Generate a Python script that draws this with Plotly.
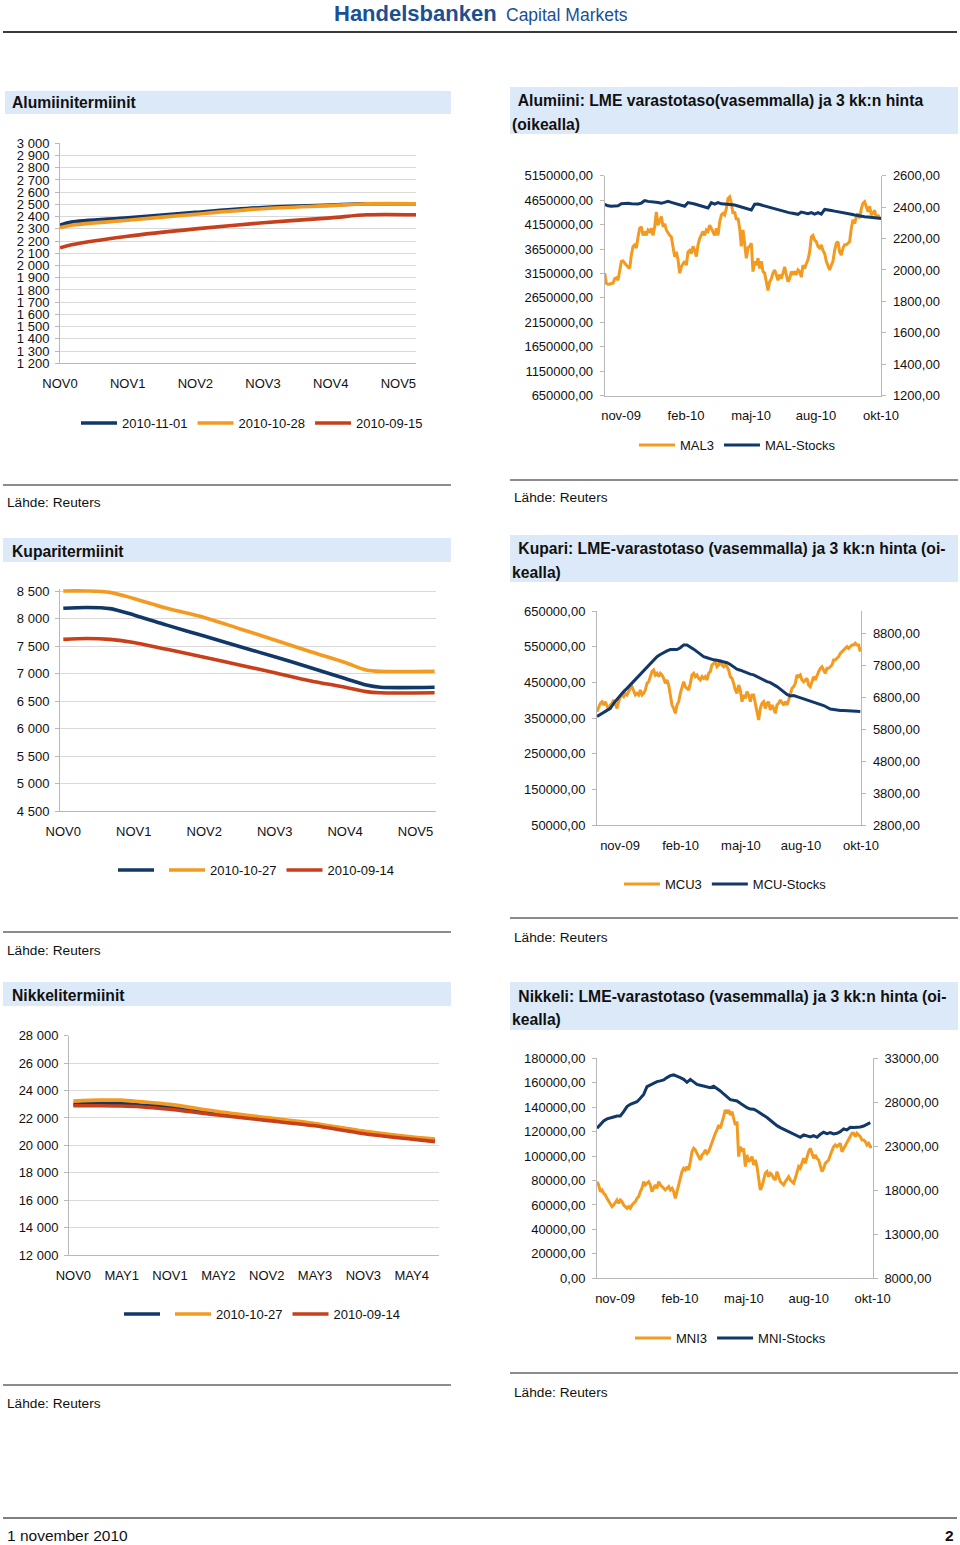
import plotly.graph_objects as go

W, H = 960, 1545
FONT = "Liberation Sans, Arial, Helvetica, sans-serif"
NAVY = "#113869"
ORANGE = "#f39a21"
RED = "#c7401b"
GRID = "#d9d9d9"
AXIS = "#b8b8b8"
TITLE_BG = "#dce9f8"
TXT = "#111111"

# ---------------- data: forward curves ----------------
al_fwd_x = [0, 0.17, 1, 2, 3, 4, 4.53, 5.26]
al_fwd_1101 = [2330, 2355, 2390, 2435, 2475, 2495, 2505, 2505]
al_fwd_1028 = [2310, 2330, 2370, 2420, 2465, 2490, 2505, 2505]
al_fwd_0915 = [2145, 2170, 2240, 2300, 2350, 2390, 2415, 2415]
al_fwd_ticks = ["NOV0", "NOV1", "NOV2", "NOV3", "NOV4", "NOV5"]

cu_fwd_x = [0, 0.33, 0.66, 1, 1.47, 2, 2.5, 3, 3.5, 4, 4.3, 4.5, 5.27]
cu_fwd_latest = [8185, 8200, 8180, 8065, 7880, 7680, 7490, 7305, 7110, 6910, 6790, 6750, 6750]
cu_fwd_1027 = [8500, 8500, 8475, 8365, 8185, 8020, 7815, 7610, 7400, 7200, 7065, 7040, 7040]
cu_fwd_0914 = [7620, 7635, 7620, 7565, 7440, 7295, 7155, 7015, 6870, 6750, 6670, 6650, 6650]
cu_fwd_ticks = ["NOV0", "NOV1", "NOV2", "NOV3", "NOV4", "NOV5"]

ni_fwd_x = [0, 0.55, 0.99, 1.38, 1.99, 2.99, 3.99, 4.99, 5.99, 6.98, 7.48]
ni_fwd_latest = [22990, 23060, 23060, 22940, 22820, 22330, 21920, 21530, 21000, 20510, 20340]
ni_fwd_1027 = [23230, 23300, 23300, 23190, 22990, 22460, 22020, 21600, 21050, 20630, 20460]
ni_fwd_0914 = [22890, 22890, 22870, 22820, 22630, 22210, 21820, 21430, 20870, 20460, 20270]
ni_fwd_ticks = ["NOV0", "MAY1", "NOV1", "MAY2", "NOV2", "MAY3", "NOV3", "MAY4"]

# ---------------- data: LME stocks and 3m prices ----------------
month_labels = ["nov-09", "feb-10", "maj-10", "aug-10", "okt-10"]

mal3 = [1980, 1915, 1910, 1910, 1915, 1915, 1945, 1950, 1935, 1990,
        2055, 2058, 2040, 2030, 2020, 2010, 2095, 2150, 2160, 2140,
        2210, 2265, 2275, 2220, 2245, 2220, 2255, 2245, 2265, 2220,
        2275, 2370, 2285, 2320, 2340, 2275, 2295, 2255, 2235, 2220,
        2210, 2140, 2085, 2115, 2065, 1980, 2020, 2040, 2055, 2030,
        2115, 2125, 2105, 2150, 2125, 2085, 2160, 2200, 2220, 2245,
        2220, 2255, 2245, 2285, 2265, 2245, 2220, 2265, 2220, 2305,
        2350, 2360, 2350, 2390, 2455, 2465, 2425, 2360, 2370, 2320,
        2330, 2265, 2150, 2255, 2180, 2075, 2140, 2150, 2170, 1990,
        2055, 2030, 2075, 2010, 2055, 1990, 1980, 1925, 1870, 1925,
        1945, 1980, 2000, 1970, 1935, 1970, 1945, 1980, 2020, 1970,
        1925, 1945, 1990, 1970, 1990, 1970, 2000, 1990, 1955, 2030,
        2010, 2040, 2065, 2115, 2210, 2220, 2190, 2180, 2150, 2140,
        2160, 2125, 2105, 2055, 2020, 2000, 2030, 2055, 2125, 2170,
        2180, 2115, 2095, 2140, 2160, 2160, 2170, 2180, 2265, 2320,
        2295, 2340, 2360, 2330, 2390, 2425, 2435, 2405, 2370, 2405,
        2350, 2360, 2380, 2330, 2350, 2330]
mal_stocks = [4565000, 4535000, 4525000, 4525000, 4535000, 4575000, 4585000, 4585000, 4575000, 4575000,
              4570000, 4590000, 4640000, 4625000, 4620000, 4605000, 4600000, 4585000, 4605000, 4625000,
              4605000, 4585000, 4565000, 4545000, 4525000, 4600000, 4590000, 4570000, 4550000, 4530000,
              4510000, 4490000, 4600000, 4570000, 4600000, 4575000, 4570000, 4565000, 4555000, 4550000,
              4530000, 4510000, 4490000, 4470000, 4450000, 4565000, 4570000, 4550000, 4530000, 4510000,
              4490000, 4470000, 4450000, 4425000, 4415000, 4400000, 4385000, 4375000, 4360000, 4405000,
              4385000, 4375000, 4395000, 4365000, 4395000, 4365000, 4460000, 4455000, 4440000, 4425000,
              4415000, 4400000, 4385000, 4375000, 4360000, 4345000, 4330000, 4320000, 4310000, 4305000,
              4300000, 4290000, 4290000, 4275000]
al_tick_pos = [9.8, 48.8, 87.8, 126.8, 165.8]

mcu3 = [6345, 6505, 6610, 6660, 6555, 6660, 6505, 6400, 6555, 6610,
        6715, 6555, 6450, 6660, 6815, 6870, 6815, 6920, 6870, 6975,
        7080, 7130, 6975, 6870, 6920, 6870, 7025, 6870, 6920, 7025,
        7235, 7285, 7445, 7600, 7650, 7495, 7550, 7445, 7550, 7495,
        7390, 7235, 7340, 7180, 6870, 6555, 6450, 6295, 6555, 6660,
        6920, 7080, 7285, 7130, 7080, 7025, 7235, 7495, 7550, 7445,
        7495, 7390, 7340, 7445, 7390, 7445, 7340, 7550, 7600, 7810,
        7860, 7915, 7755, 7810, 7965, 7810, 7755, 7810, 7755, 7650,
        7445, 7390, 7235, 7025, 6920, 7180, 7025, 6660, 6870, 6765,
        6975, 6870, 6660, 6870, 6870, 6610, 6345, 6085, 6450, 6610,
        6660, 6450, 6610, 6660, 6400, 6555, 6450, 6295, 6555, 6610,
        6715, 6610, 6555, 6660, 6555, 6715, 6920, 7080, 7130, 7235,
        7495, 7445, 7495, 7340, 7285, 7340, 7390, 7180, 7130, 7285,
        7445, 7340, 7495, 7600, 7705, 7755, 7650, 7550, 7705, 7705,
        7755, 7810, 7965, 7965, 8020, 8070, 8175, 8225, 8280, 8330,
        8385, 8330, 8385, 8435, 8435, 8490, 8435, 8435, 8225]
mcu_stocks = [354000, 360000, 366000, 370000, 377000, 391000, 403000, 415000, 424000, 433000,
              443000, 454000, 463000, 472000, 482000, 494000, 503000, 513000, 522000, 528000,
              534000, 538000, 542000, 541000, 542000, 547000, 555000, 555000, 550000, 543000,
              536000, 528000, 522000, 519000, 515000, 513000, 512000, 510000, 508000, 505000,
              500000, 494000, 487000, 484000, 480000, 477000, 473000, 471000, 466000, 461000,
              457000, 452000, 449000, 444000, 438000, 431000, 424000, 416000, 412000, 413000,
              410000, 407000, 403000, 400000, 398000, 396000, 393000, 388000, 385000, 380000,
              375000, 374000, 372000, 371000, 371000, 370000, 369000, 368000, 368000, 368000]
cu_tick_pos = [13.8, 50.2, 86.4, 122.4, 158.4]

mni3 = [18980, 18610, 17850, 18040, 17660, 17470, 17090, 16710, 16520, 16140,
        16330, 16710, 16900, 16520, 16900, 16710, 16330, 16140, 15950, 16140,
        15950, 16330, 16520, 16710, 17090, 17280, 17850, 18230, 18980, 18610,
        18800, 18980, 18610, 17850, 18230, 18610, 18230, 18980, 18610, 18420,
        18230, 18040, 18230, 18420, 18040, 18230, 17850, 17090, 17850, 18610,
        19360, 20120, 20500, 20310, 20690, 20310, 21260, 22390, 22770, 22580,
        22200, 21830, 21450, 22020, 22200, 22580, 22200, 22390, 22960, 23530,
        24100, 24480, 24860, 25420, 25050, 25610, 26370, 27130, 26750, 27130,
        26560, 26940, 26180, 25420, 25800, 21830, 22960, 22390, 22770, 20690,
        22020, 21260, 21450, 21830, 20880, 21450, 20690, 19360, 18040, 18420,
        19170, 19930, 20120, 19550, 19930, 19740, 19360, 19170, 20120, 19550,
        18980, 18800, 18610, 18980, 19360, 19550, 19170, 18980, 18800, 19360,
        19930, 20690, 20500, 21070, 21640, 21070, 21830, 22390, 22770, 22200,
        21640, 22020, 21640, 21450, 20880, 20120, 20500, 21070, 21260, 21450,
        22020, 22580, 22960, 23150, 22960, 23150, 23340, 22390, 22770, 22960,
        23340, 23720, 24100, 24480, 24480, 24100, 24480, 24290, 24100, 23720,
        23720, 23530, 23150, 23340, 22960, 22960]
mni_stocks = [122700, 125500, 128700, 130400, 130900, 132000, 132800, 132800, 136400, 140500,
              142400, 143200, 144500, 147300, 150500, 156800, 158200, 159000, 160900, 161500,
              162300, 164200, 165800, 166400, 165500, 164200, 162800, 160400, 162800, 160400,
              158700, 157900, 157100, 156500, 156000, 157100, 155500, 153300, 150800, 148100,
              146200, 145600, 145100, 143200, 141300, 139600, 138500, 138300, 136900, 135300,
              133600, 131500, 129300, 126800, 124900, 123300, 121900, 120500, 119200, 117800,
              116500, 115400, 117300, 116500, 115600, 116700, 115400, 117800, 119500, 118400,
              119200, 118100, 118600, 120000, 122200, 121400, 123500, 123300, 123500, 123800,
              124600, 126000, 127400]
ni_tick_pos = [10.8, 49.8, 88.2, 127.0, 165.4]

# day index of each daily observation (prices every step, stocks every 2nd step)
mal3_x = list(range(len(mal3)))
mal_stocks_x = list(range(0, 2 * len(mal_stocks), 2))
mcu3_x = list(range(len(mcu3)))
mcu_stocks_x = list(range(0, 2 * len(mcu_stocks), 2))
mni3_x = list(range(len(mni3)))
mni_stocks_x = list(range(0, 2 * len(mni_stocks), 2))


def fx(p):
    return p / W


def fy(p):
    return 1 - p / H


fig = go.Figure()


def line_trace(x, y, name, color, xa, ya, leg, width=3.6, spline=False, show=True):
    return go.Scatter(
        x=x, y=y, name=name, mode="lines",
        line=dict(color=color, width=width, shape="spline" if spline else "linear", smoothing=0.8),
        xaxis=xa, yaxis=ya, legend=leg, showlegend=show, hoverinfo="skip",
    )


# Panel A: aluminium forwards
fig.add_trace(line_trace(al_fwd_x, al_fwd_1101, "2010-11-01", NAVY, "x", "y", "legend", spline=True))
fig.add_trace(line_trace(al_fwd_x, al_fwd_1028, "2010-10-28", ORANGE, "x", "y", "legend", spline=True))
fig.add_trace(line_trace(al_fwd_x, al_fwd_0915, "2010-09-15", RED, "x", "y", "legend", spline=True))
# Panel B: aluminium LME
fig.add_trace(line_trace(mal3_x, mal3, "MAL3", ORANGE, "x2", "y2", "legend2", width=3))
fig.add_trace(line_trace(mal_stocks_x, mal_stocks, "MAL-Stocks", NAVY, "x2", "y3", "legend2", width=3))
# Panel C: copper forwards
fig.add_trace(line_trace(cu_fwd_x, cu_fwd_latest, "", NAVY, "x3", "y4", "legend3", spline=True))
fig.add_trace(line_trace(cu_fwd_x, cu_fwd_1027, "2010-10-27", ORANGE, "x3", "y4", "legend3", spline=True))
fig.add_trace(line_trace(cu_fwd_x, cu_fwd_0914, "2010-09-14", RED, "x3", "y4", "legend3", spline=True))
# Panel D: copper LME
fig.add_trace(line_trace(mcu3_x, mcu3, "MCU3", ORANGE, "x4", "y5", "legend4", width=3))
fig.add_trace(line_trace(mcu_stocks_x, mcu_stocks, "MCU-Stocks", NAVY, "x4", "y6", "legend4", width=3))
# Panel E: nickel forwards
fig.add_trace(line_trace(ni_fwd_x, ni_fwd_latest, "", NAVY, "x5", "y7", "legend5", spline=True))
fig.add_trace(line_trace(ni_fwd_x, ni_fwd_1027, "2010-10-27", ORANGE, "x5", "y7", "legend5", spline=True))
fig.add_trace(line_trace(ni_fwd_x, ni_fwd_0914, "2010-09-14", RED, "x5", "y7", "legend5", spline=True))
# Panel F: nickel LME
fig.add_trace(line_trace(mni3_x, mni3, "MNI3", ORANGE, "x6", "y8", "legend6", width=3))
fig.add_trace(line_trace(mni_stocks_x, mni_stocks, "MNI-Stocks", NAVY, "x6", "y9", "legend6", width=3))

tickfont = dict(family=FONT, size=13, color=TXT)


def cat_xaxis(dom, rng, labels, anchor):
    return dict(domain=[fx(dom[0]), fx(dom[1])], range=rng, anchor=anchor, automargin=False,
                tickmode="array", tickvals=list(range(len(labels))), ticktext=labels,
                showgrid=False, zeroline=False, showline=True, linecolor=AXIS, linewidth=1,
                ticks="", tickfont=tickfont, ticklabelstandoff=8, fixedrange=True)


def date_xaxis(dom, rng, pos, anchor):
    return dict(domain=[fx(dom[0]), fx(dom[1])], range=rng, anchor=anchor, automargin=False,
                tickmode="array", tickvals=pos, ticktext=month_labels,
                showgrid=False, zeroline=False, showline=True, linecolor=AXIS, linewidth=1,
                ticks="", tickfont=tickfont, ticklabelstandoff=8, fixedrange=True)


def grid_yaxis(dom, rng, dtick, anchor):
    return dict(domain=[fy(dom[1]), fy(dom[0])], range=rng, anchor=anchor, automargin=False,
                tick0=rng[0], dtick=dtick, tickformat=",d",
                showgrid=True, gridcolor=GRID, gridwidth=1, zeroline=False,
                showline=True, linecolor=AXIS, linewidth=1,
                ticks="outside", ticklen=4, tickcolor=AXIS, tickfont=tickfont,
                ticklabelstandoff=3, fixedrange=True)


def price_yaxis(dom, rng, tick0, dtick, anchor):
    return dict(domain=[fy(dom[1]), fy(dom[0])], range=rng, anchor=anchor, side="right",
                automargin=False, tick0=tick0, dtick=dtick, tickformat=".2f",
                showgrid=False, zeroline=False, showline=True, linecolor=AXIS, linewidth=1,
                ticks="outside", ticklen=4, tickcolor=AXIS, tickfont=tickfont,
                ticklabelstandoff=4, fixedrange=True)


def stock_yaxis(rng, dtick, anchor, over):
    return dict(range=rng, anchor=anchor, overlaying=over, side="left", automargin=False,
                tick0=rng[0], dtick=dtick, tickformat=".2f",
                showgrid=False, zeroline=False, showline=True, linecolor=AXIS, linewidth=1,
                ticks="outside", ticklen=4, tickcolor=AXIS, tickfont=tickfont,
                ticklabelstandoff=4, fixedrange=True)


def legend_at(xp, yp):
    return dict(x=fx(xp), y=fy(yp), xanchor="left", yanchor="middle", orientation="h",
                font=dict(family=FONT, size=13, color=TXT), bgcolor="rgba(0,0,0,0)",
                borderwidth=0, traceorder="normal", itemclick=False, itemdoubleclick=False,
                itemwidth=36)


layout = dict(
    width=W, height=H, autosize=False,
    margin=dict(l=0, r=0, t=0, b=0, pad=0, autoexpand=False),
    paper_bgcolor="white", plot_bgcolor="white",
    separators=", ",
    font=dict(family=FONT, size=13, color=TXT),
    xaxis=cat_xaxis((60, 416), [0, 5.26], al_fwd_ticks, "y"),
    yaxis=grid_yaxis((143.3, 363.3), [1200, 3000], 100, "x"),
    xaxis2=date_xaxis((604.7, 881.3), [0, 166], al_tick_pos, "y2"),
    yaxis2=price_yaxis((175.7, 395.7), [1200, 2600], 1200, 200, "x2"),
    yaxis3=stock_yaxis([650000, 5150000], 500000, "x2", "y2"),
    xaxis3=cat_xaxis((60, 436), [-0.047, 5.29], cu_fwd_ticks, "y4"),
    yaxis4=grid_yaxis((588.8, 811), [4500, 8540], 500, "x3"),
    xaxis4=date_xaxis((597, 861.3), [0, 158.6], cu_tick_pos, "y5"),
    yaxis5=price_yaxis((611, 825), [2800, 9500], 2800, 1000, "x4"),
    yaxis6=stock_yaxis([50000, 650000], 100000, "x4", "y5"),
    xaxis5=cat_xaxis((69, 439.3), [-0.09, 7.57], ni_fwd_ticks, "y7"),
    yaxis7=grid_yaxis((1035.7, 1255), [12000, 28000], 2000, "x5"),
    xaxis6=date_xaxis((597, 872.8), [0, 165.5], ni_tick_pos, "y8"),
    yaxis8=price_yaxis((1058.3, 1278.3), [8000, 33000], 8000, 5000, "x6"),
    yaxis9=stock_yaxis([0, 180000], 20000, "x6", "y8"),
    legend=legend_at(76, 423),
    legend2=legend_at(634, 445),
    legend3=legend_at(113, 870),
    legend4=legend_at(619, 884),
    legend5=legend_at(119, 1314),
    legend6=legend_at(630, 1338),
)
fig.update_layout(**layout)

shapes = []
annotations = []


def rect(x0, y0, x1, y1, color):
    shapes.append(dict(type="rect", xref="paper", yref="paper", x0=fx(x0), x1=fx(x1),
                       y0=fy(y1), y1=fy(y0), fillcolor=color, line=dict(width=0), layer="below"))


def hline(x0, x1, y, color="#666666", width=1.3):
    shapes.append(dict(type="line", xref="paper", yref="paper", x0=fx(x0), x1=fx(x1),
                       y0=fy(y), y1=fy(y), line=dict(color=color, width=width)))


def text(x, y, s, size=13, bold=False, color=TXT, anchor="left"):
    annotations.append(dict(xref="paper", yref="paper", x=fx(x), y=fy(y), text=("<b>%s</b>" % s) if bold else s,
                            showarrow=False, xanchor=anchor, yanchor="middle", align="left",
                            font=dict(family=FONT, size=size, color=color), borderpad=0))


# header
text(333, 13, "Handelsbanken", size=22, bold=True, color="#1d4f93")
text(505, 15, "Capital Markets", size=17.5, color="#1d4f93")
hline(3, 957, 32, color="#3a3a3a", width=2)

# title boxes
TS = 15.7
rect(5, 91, 451, 114, TITLE_BG)
text(11, 103, "Alumiinitermiinit", size=TS, bold=True)
rect(510, 87, 958, 134, TITLE_BG)
text(513, 100, " Alumiini: LME varastotaso(vasemmalla) ja 3 kk:n hinta", size=TS, bold=True)
text(511, 124, "(oikealla)", size=TS, bold=True)

rect(3, 538, 451, 562, TITLE_BG)
text(11, 551, "Kuparitermiinit", size=TS, bold=True)
rect(510, 535, 958, 582, TITLE_BG)
text(513, 548, " Kupari: LME-varastotaso (vasemmalla) ja 3 kk:n hinta (oi-", size=TS, bold=True)
text(511, 572, "kealla)", size=TS, bold=True)

rect(3, 982, 451, 1006, TITLE_BG)
text(11, 995, "Nikkelitermiinit", size=TS, bold=True)
rect(510, 982, 958, 1030, TITLE_BG)
text(513, 996, " Nikkeli: LME-varastotaso (vasemmalla) ja 3 kk:n hinta (oi-", size=TS, bold=True)
text(511, 1019, "kealla)", size=TS, bold=True)

# sources
hline(3, 451, 485)
text(6, 502, "Lähde: Reuters", size=13.7)
hline(510, 958, 480)
text(513, 497, "Lähde: Reuters", size=13.7)
hline(3, 451, 932)
text(6, 950, "Lähde: Reuters", size=13.7)
hline(510, 958, 918)
text(513, 937, "Lähde: Reuters", size=13.7)
hline(3, 451, 1385)
text(6, 1403, "Lähde: Reuters", size=13.7)
hline(510, 958, 1373)
text(513, 1392, "Lähde: Reuters", size=13.7)

# footer
hline(3, 957, 1518, color="#555555", width=1.5)
text(6, 1535, "1 november 2010", size=15.5)
text(955, 1535, "2", size=15.5, bold=True, anchor="right")

fig.update_layout(shapes=shapes, annotations=annotations)

fig.write_html("out.html", config={"displayModeBar": False, "staticPlot": True},
               post_script="document.body.style.margin='0px';document.body.style.padding='0px';"
                           "document.documentElement.style.overflow='hidden';")
